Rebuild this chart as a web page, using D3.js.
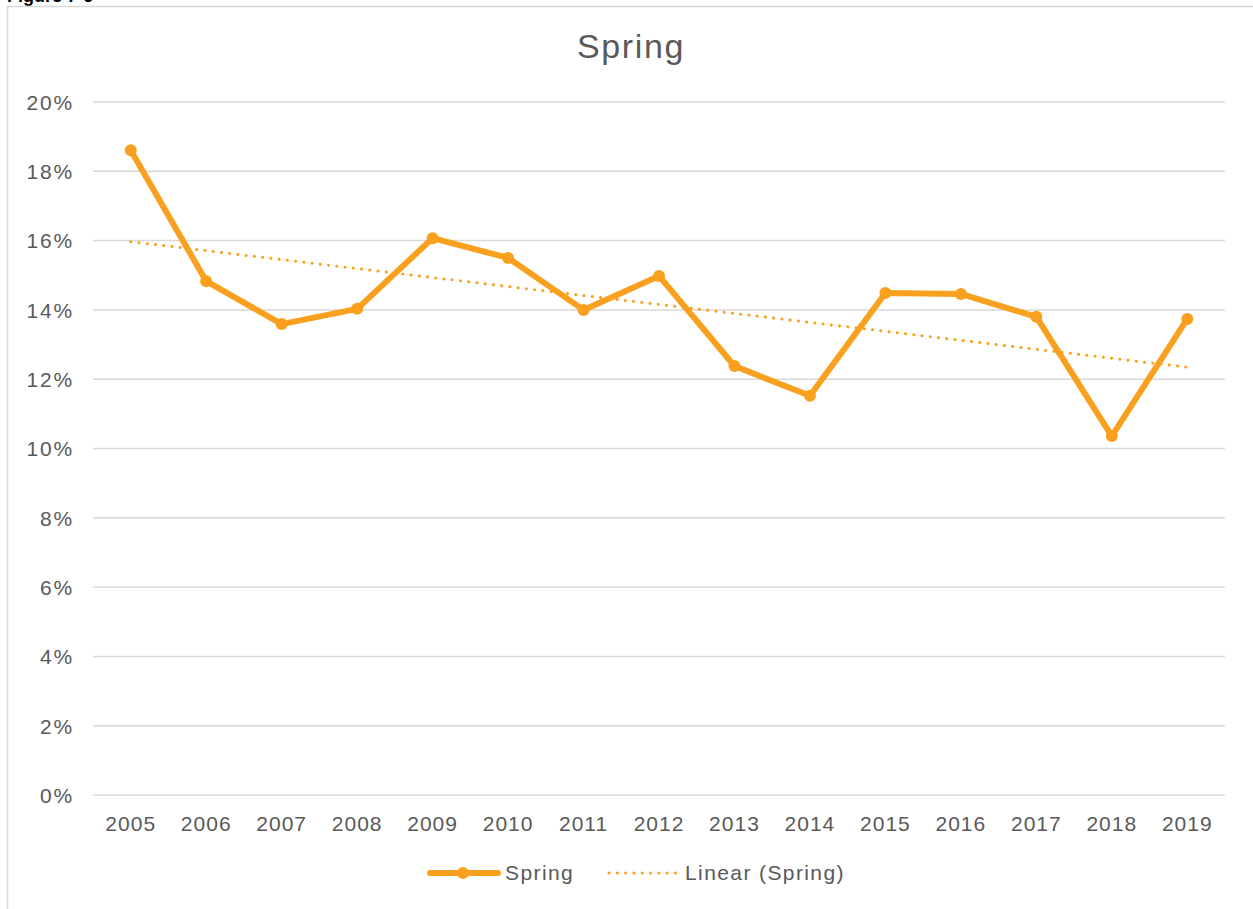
<!DOCTYPE html>
<html>
<head>
<meta charset="utf-8">
<script src="https://cdn.jsdelivr.net/npm/d3@7"></script>
<style>
  body { margin: 0; background: #fff; }
  svg { display: block; font-family: "Liberation Sans", Arial, sans-serif; }
</style>
</head>
<body>
<div id="chart"></div>
<script>
var years = ["2005","2006","2007","2008","2009","2010","2011","2012","2013","2014","2015","2016","2017","2018","2019"];
var spring = [18.61,14.83,13.59,14.03,16.07,15.50,14.00,14.98,12.38,11.52,14.49,14.46,13.80,10.36,13.74];
var yTicks = [0,2,4,6,8,10,12,14,16,18,20];

var W = 1253, H = 909;
var orange = "#F9A11E", grey = "#595959", grid = "#D9D9D9";
var margin = {top: 102, right: 28, bottom: 114, left: 93};

var svg = d3.select("#chart").append("svg").attr("width", W).attr("height", H);

// figure caption, mostly cut off at the top (as in the source)
svg.append("text").attr("x", 7).attr("y", 2)
  .style("font-size", "18px").style("font-weight", "bold").attr("fill", "#000")
  .text("Figure 7-6");

// chart frame
svg.append("rect").attr("x", 7.5).attr("y", 6.5).attr("width", W + 10).attr("height", H + 10)
  .attr("fill", "#fff").attr("stroke", grid).attr("stroke-width", 1.5);

var width = W - margin.left - margin.right,
    height = H - margin.top - margin.bottom;

var x = d3.scaleBand().domain(years).range([margin.left, margin.left + width]);
var y = d3.scaleLinear().domain([0, 20]).range([margin.top + height, margin.top]);

// grid lines
svg.append("g").selectAll("line").data(yTicks).join("line")
  .attr("x1", margin.left).attr("x2", margin.left + width)
  .attr("y1", d => y(d)).attr("y2", d => y(d))
  .attr("stroke", grid).attr("stroke-width", 1.5);

// y axis labels
var yAxis = svg.append("g").attr("transform", "translate(" + (margin.left - 19) + ",0)")
  .call(d3.axisLeft(y).tickValues(yTicks).tickSize(0).tickFormat(d => d + "%"));
yAxis.select(".domain").remove();
yAxis.selectAll("text").attr("fill", grey).style("font-size", "21px").style("letter-spacing", "1.8px")
  .style("font-family", "'Liberation Sans', Arial, sans-serif").attr("dy", "0.35em").attr("x", 0);

// x axis labels
var xAxis = svg.append("g").attr("transform", "translate(0," + (margin.top + height + 18) + ")")
  .call(d3.axisBottom(x).tickSize(0));
xAxis.select(".domain").remove();
xAxis.selectAll("text").attr("fill", grey).style("font-size", "21px")
  .style("font-family", "'Liberation Sans', Arial, sans-serif").style("letter-spacing", "1px");

// title
svg.append("text").attr("x", 631).attr("y", 58).attr("text-anchor", "middle")
  .attr("fill", grey).style("font-size", "34px").style("letter-spacing", "1.6px").text("Spring");

// linear trend fitted to the series
var n = spring.length;
var mx = d3.mean(d3.range(n)), my = d3.mean(spring);
var slope = d3.sum(d3.range(n), i => (i - mx) * (spring[i] - my)) / d3.sum(d3.range(n), i => (i - mx) * (i - mx));
var icpt = my - slope * mx;
var cx = d => x(d) + x.bandwidth() / 2;

svg.append("line")
  .attr("x1", cx(years[0])).attr("y1", y(icpt))
  .attr("x2", cx(years[n - 1])).attr("y2", y(icpt + slope * (n - 1)))
  .attr("stroke", orange).attr("stroke-width", 3)
  .attr("stroke-dasharray", "0.1 8.2").attr("stroke-linecap", "round");

// series line + markers
var line = d3.line().x((d, i) => cx(years[i])).y(d => y(d));
svg.append("path").datum(spring).attr("d", line)
  .attr("fill", "none").attr("stroke", orange).attr("stroke-width", 6).attr("stroke-linejoin", "round");
svg.append("g").selectAll("circle").data(spring).join("circle")
  .attr("cx", (d, i) => cx(years[i])).attr("cy", d => y(d)).attr("r", 6).attr("fill", orange);

// legend
var lg = svg.append("g").attr("transform", "translate(0,873)");
lg.append("line").attr("x1", 430).attr("x2", 498).attr("stroke", orange).attr("stroke-width", 6).attr("stroke-linecap", "round");
lg.append("circle").attr("cx", 463).attr("r", 6).attr("fill", orange);
lg.append("text").attr("x", 505).attr("dy", "0.35em").attr("fill", grey).style("font-size", "21px").style("letter-spacing", "1.4px").text("Spring");
lg.append("line").attr("x1", 609).attr("x2", 678).attr("stroke", orange).attr("stroke-width", 3)
  .attr("stroke-dasharray", "0.1 8.2").attr("stroke-linecap", "round");
lg.append("text").attr("x", 685).attr("dy", "0.35em").attr("fill", grey).style("font-size", "21px").style("letter-spacing", "1.4px").text("Linear (Spring)");
</script>
</body>
</html>
